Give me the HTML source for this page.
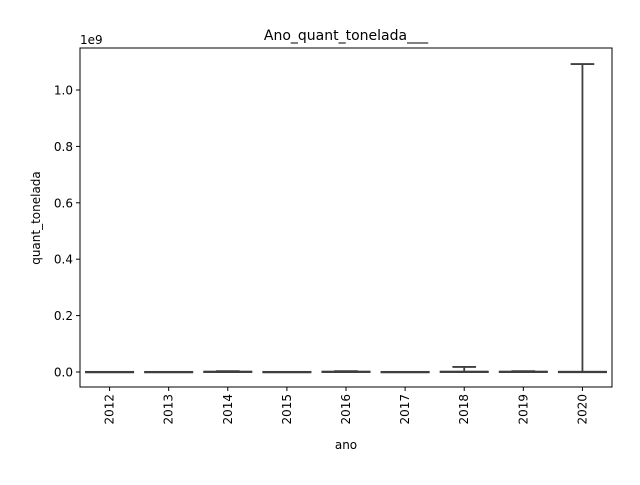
<!DOCTYPE html>
<html><head><meta charset="utf-8"><style>
body{margin:0;background:#fff}
svg text{font-family:"DejaVu Sans","Liberation Sans",sans-serif;fill:#000}
</style></head><body>
<svg id="chart" width="640" height="480" xmlns="http://www.w3.org/2000/svg">
<text x="346" y="40" font-size="14" text-anchor="middle">Ano_quant_tonelada___</text>
<text x="80" y="44" font-size="12">1e9</text>
<text transform="translate(40,218) rotate(-90)" font-size="12" text-anchor="middle">quant_tonelada</text>
<text x="346" y="449" font-size="12" text-anchor="middle">ano</text>
<g id="marks"></g>
<g id="axes"></g>
<rect x="80" y="48" width="532" height="339" fill="none" stroke="#000" stroke-width="1"/>
</svg>
<script>
const categories=["2012","2013","2014","2015","2016","2017","2018","2019","2020"];
const q1=[0,0,0,0,0,0,0,0,0];
const medians=[0,0,0,0,0,0,0,0,0];
const q3=[0.0005,0.0005,0.0015,0.0005,0.0015,0.0005,0.0015,0.0015,0.001];
const whiskerLow=[0,0,0,0,0,0,0,0,0];
const whiskerHigh=[0.0005,0.0005,0.003,0.0005,0.003,0.0005,0.018,0.003,1.092];
const yTicks=[0,0.2,0.4,0.6,0.8,1.0];
const yTickLabels=["0.0","0.2","0.4","0.6","0.8","1.0"];

const L=80,R=612,T=48,B=387;
const y=v=>372-v*282;
const bw=(R-L)/categories.length;
const x=i=>L+bw*(i+0.5);
const ns="http://www.w3.org/2000/svg";
const marks=document.getElementById('marks'),axes=document.getElementById('axes');
function mk(tag,attrs,parent){const e=document.createElementNS(ns,tag);for(const k in attrs)e.setAttribute(k,attrs[k]);parent.appendChild(e);return e;}
const col="#3f3f3f",half=bw*0.4,cap=bw*0.2,sw=1.8;
categories.forEach((c,i)=>{
  const cx=x(i);
  const g=mk('g',{},marks);
  
  
  mk('rect',{x:cx-half,y:y(q3[i]),width:2*half,height:Math.max(0.5,y(q1[i])-y(q3[i])),fill:"#d9d9d9",stroke:col,"stroke-width":sw},g);
  mk('line',{x1:cx,x2:cx,y1:y(q3[i]),y2:y(whiskerHigh[i]),stroke:col,"stroke-width":sw},g);
  mk('line',{x1:cx,x2:cx,y1:y(q1[i]),y2:y(whiskerLow[i]),stroke:col,"stroke-width":sw},g);
  mk('line',{x1:cx-cap,x2:cx+cap,y1:y(whiskerHigh[i]),y2:y(whiskerHigh[i]),stroke:col,"stroke-width":sw},g);
  mk('line',{x1:cx-cap,x2:cx+cap,y1:y(whiskerLow[i]),y2:y(whiskerLow[i]),stroke:col,"stroke-width":sw},g);
  mk('line',{x1:cx-half,x2:cx+half,y1:y(medians[i]),y2:y(medians[i]),stroke:col,"stroke-width":sw},g);
  mk('line',{x1:cx,x2:cx,y1:B,y2:B+4,stroke:"#000"},axes);
  const t=mk('text',{transform:`translate(${cx+4},${B+7}) rotate(-90)`,"font-size":12,"text-anchor":"end"},axes);
  
  
  t.textContent=c;
});
yTicks.forEach((v,i)=>{
  mk('line',{x1:L-4,x2:L,y1:y(v),y2:y(v),stroke:"#000"},axes);
  const t=mk('text',{x:L-7,y:y(v)+4.5,"font-size":12,"text-anchor":"end"},axes);
  
  
  t.textContent=yTickLabels[i];
});
</script>
</body></html>
